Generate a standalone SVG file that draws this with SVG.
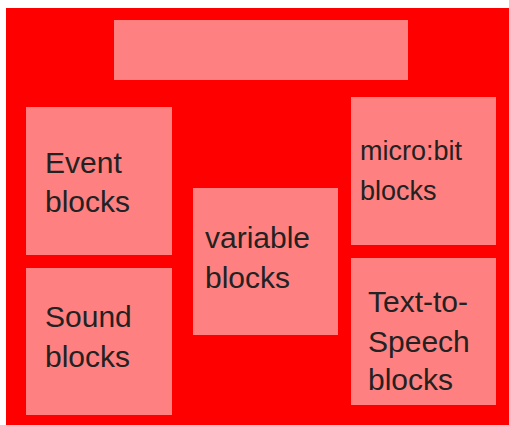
<svg xmlns="http://www.w3.org/2000/svg" width="509" height="425" viewBox="0 0 509 425">
<style>
.box{fill:#ff8080}
.t{font-family:"Liberation Sans",Arial,sans-serif;font-size:30px;fill:#222}
.s{font-size:27px}
</style>
<rect x="0" y="0" width="509" height="425" fill="#ffffff"/>
<rect id="frame" x="6" y="8" width="503" height="417" fill="#ff0000"/>
<g id="title"><rect class="box" x="114" y="20" width="294" height="60"/></g>
<g id="event"><rect class="box" x="26" y="107" width="146" height="148"/>
<text class="t" x="45" y="173">Event</text><text class="t" x="45" y="212">blocks</text></g>
<g id="sound"><rect class="box" x="26" y="268" width="146" height="147"/>
<text class="t" x="45" y="327">Sound</text><text class="t" x="45" y="367">blocks</text></g>
<g id="variable"><rect class="box" x="193" y="188" width="145" height="147"/>
<text class="t" x="205" y="248">variable</text><text class="t" x="205" y="288">blocks</text></g>
<g id="microbit"><rect class="box" x="351" y="97" width="145" height="148"/>
<text class="t s" x="360" y="160">micro:bit</text><text class="t s" x="360" y="200">blocks</text></g>
<g id="tts"><rect class="box" x="351" y="258" width="145" height="147"/>
<text class="t" x="368" y="312">Text-to-</text><text class="t" x="368" y="352">Speech</text><text class="t" x="368" y="390">blocks</text></g>
<g id="connectors"></g>
</svg>
